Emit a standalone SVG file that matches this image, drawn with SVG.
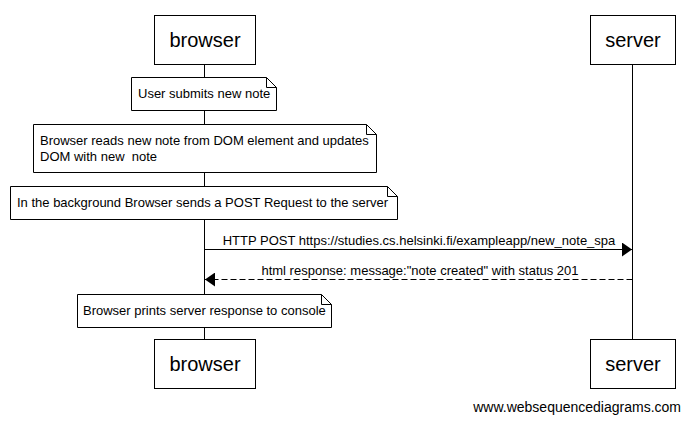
<svg xmlns="http://www.w3.org/2000/svg" width="690" height="423" viewBox="0 0 690 423">
<style>
.box{fill:#fff;stroke:#000;stroke-width:1}
.note{fill:#fff;stroke:#000;stroke-width:1}
.fold{fill:none;stroke:#000;stroke-width:1}
.life{stroke:#000;stroke-width:1}
.ptxt{font-family:"Liberation Sans",Arial,sans-serif;font-size:20px;fill:#000;text-anchor:middle}
.ntxt{font-family:"Liberation Sans",Arial,sans-serif;font-size:13px;fill:#000}
.mtxt{font-family:"Liberation Sans",Arial,sans-serif;font-size:13px;fill:#000;text-anchor:middle}
.msg{stroke:#000;stroke-width:1;fill:none}
.dash{stroke-dasharray:6,3}
</style>
<defs>
<marker id="ah" markerWidth="10" markerHeight="14" refX="10" refY="7" orient="auto" markerUnits="userSpaceOnUse">
<path d="M0,0 L10,7 L0,14 Z" fill="#000"/>
</marker>
</defs>
<rect width="690" height="423" fill="#fff"/>
<g id="lifelines">
<line class="life" x1="204.5" y1="64" x2="204.5" y2="339"/>
<line class="life" x1="632.5" y1="64" x2="632.5" y2="339"/>
</g>
<g id="browser-top">
<rect class="box" x="154.5" y="15.5" width="101" height="49"/>
<text class="ptxt" x="205" y="47">browser</text>
</g>
<g id="server-top">
<rect class="box" x="590.5" y="15.5" width="85" height="49"/>
<text class="ptxt" x="633" y="47">server</text>
</g>
<g id="note1">
<path class="note" d="M131.5,77.5 H266.5 L276.5,87.5 V110.5 H131.5 Z"/>
<path class="fold" d="M266.5,77.5 V87.5 H276.5"/>
<text class="ntxt" x="138" y="98">User submits new note</text>
</g>
<g id="note2">
<path class="note" d="M33.5,124.5 H366.5 L376.5,134.5 V172.5 H33.5 Z"/>
<path class="fold" d="M366.5,124.5 V134.5 H376.5"/>
<text class="ntxt" x="40" y="145">Browser reads new note from DOM element and updates</text>
<text class="ntxt" x="40" y="161" xml:space="preserve">DOM with new  note</text>
</g>
<g id="note3">
<path class="note" d="M10.5,186.5 H387.5 L397.5,196.5 V219.5 H10.5 Z"/>
<path class="fold" d="M387.5,186.5 V196.5 H397.5"/>
<text class="ntxt" x="17" y="207">In the background Browser sends a POST Request to the server</text>
</g>
<g id="connectors">
<line class="msg" x1="204.5" y1="249.5" x2="632" y2="249.5" marker-end="url(#ah)"/>
<text class="mtxt" x="419" y="245">HTTP POST https://studies.cs.helsinki.fi/exampleapp/new_note_spa</text>
<line class="msg dash" x1="632.5" y1="279.5" x2="205" y2="279.5" marker-end="url(#ah)"/>
<text class="mtxt" x="420" y="275">html response: message:"note created" with status 201</text>
</g>
<g id="note4">
<path class="note" d="M77.5,294.5 H321.5 L331.5,304.5 V327.5 H77.5 Z"/>
<path class="fold" d="M321.5,294.5 V304.5 H331.5"/>
<text class="ntxt" x="83" y="315">Browser prints server response to console</text>
</g>
<g id="browser-bottom">
<rect class="box" x="154.5" y="339.5" width="101" height="49"/>
<text class="ptxt" x="205" y="371">browser</text>
</g>
<g id="server-bottom">
<rect class="box" x="590.5" y="339.5" width="85" height="49"/>
<text class="ptxt" x="633" y="371">server</text>
</g>
<text class="ntxt" x="681" y="412" style="font-size:14px;text-anchor:end">www.websequencediagrams.com</text>
</svg>
